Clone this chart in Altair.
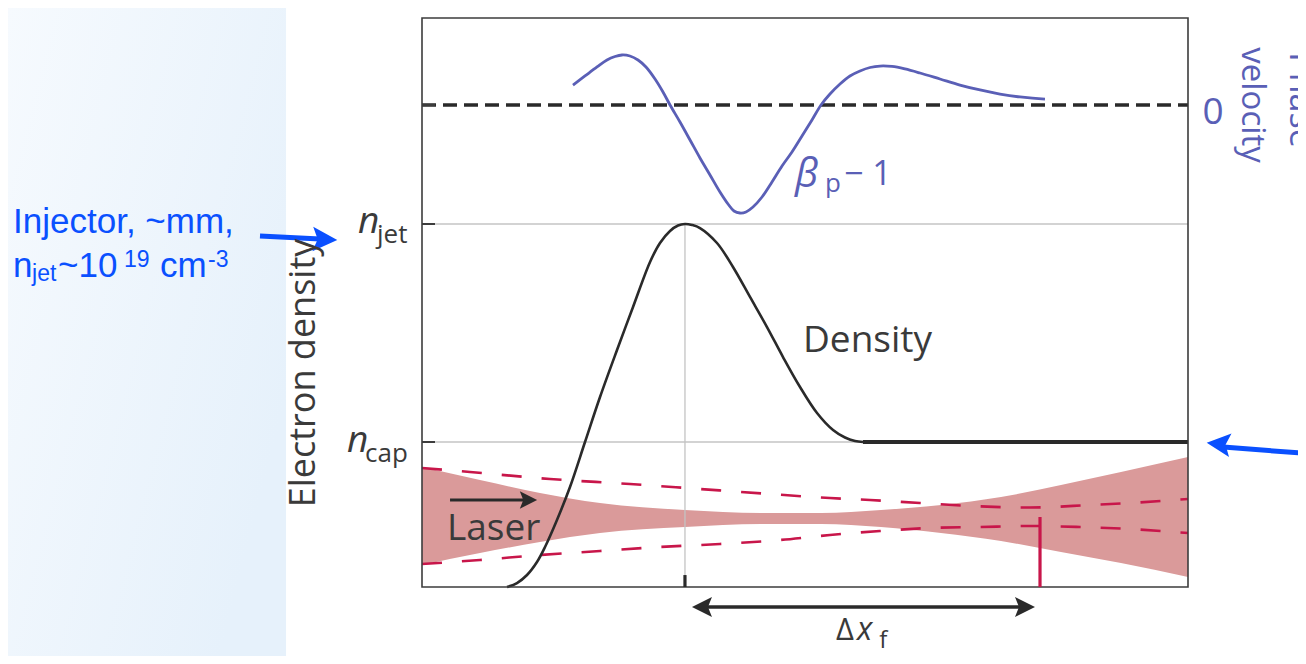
import altair as alt
import pandas as pd

# ---------------- data (box units: x 0..100 left->right, y 0..100 bottom->top)
blue_x = [19.71, 21.28, 22.85, 24.15, 25.20, 26.11, 27.15, 28.20, 29.24, 30.42, 31.46, 32.38,
          33.68, 34.99, 36.29, 37.60, 38.90, 39.95, 40.73, 41.51, 42.30, 43.21, 44.39, 45.69,
          47.00, 48.30, 49.61, 50.91, 52.09, 53.26, 54.57, 55.87, 57.18, 58.49, 59.79, 61.36,
          63.05, 65.01, 67.62, 70.23, 72.85, 75.46, 78.07, 81.33]
blue_y = [88.22, 89.81, 91.39, 92.62, 93.23, 93.50, 93.32, 92.62, 91.39, 89.28, 87.00, 84.71,
          81.72, 78.56, 75.40, 72.41, 69.42, 67.31, 66.08, 65.73, 65.91, 66.78, 68.54, 71.18,
          73.99, 76.45, 79.26, 82.07, 84.71, 86.64, 88.40, 89.81, 90.69, 91.30, 91.56, 91.48,
          91.04, 90.33, 89.28, 88.22, 87.35, 86.64, 86.12, 85.76]

dens_x = [11.10, 12.40, 13.71, 15.01, 16.06, 17.62, 19.32, 21.28, 23.24, 25.46, 27.55, 29.77,
          31.07, 32.38, 33.42, 34.33, 35.25, 36.29, 38.51, 40.60, 42.82, 45.04, 47.13, 49.35,
          51.57, 53.66, 55.22, 56.53, 57.57]
dens_y = [0.00, 0.70, 2.11, 4.39, 7.03, 11.78, 17.57, 25.48, 33.39, 41.65, 49.21, 57.12,
          60.46, 62.57, 63.53, 63.80, 63.62, 63.09, 60.46, 56.24, 50.97, 45.69, 40.42, 35.15,
          30.58, 27.59, 26.27, 25.66, 25.48]

n_cap = 25.48
n_jet = 63.80
zero_pv = 84.71
peak_x = 34.33
focus_x = 80.68
focus_top = 12.30
cap_start = 57.57

laser_x = [0, 7.57, 15.40, 23.24, 34.33, 44.26, 52.09, 59.92, 67.75, 75.59, 83.42, 91.25, 100]
laser_up = [21.09, 18.80, 16.52, 14.76, 13.53, 13.01, 13.01, 13.53, 14.41, 15.82, 17.93, 20.21, 22.85]
laser_lo = [3.87, 5.98, 7.91, 9.49, 10.54, 11.07, 11.07, 10.54, 9.49, 8.08, 6.15, 4.22, 1.76]

dash_up_x = [0, 6.27, 16.71, 27.15, 36.29, 45.43, 53.26, 58.49, 65.01, 71.54, 79.37, 87.21, 92.43, 100]
dash_up_y = [20.91, 20.21, 18.98, 18.10, 17.22, 16.34, 15.64, 15.29, 14.76, 14.24, 13.97, 14.41, 14.76, 15.47]
dash_lo_x = [0, 7.57, 15.40, 23.24, 31.07, 38.90, 46.74, 53.26, 59.79, 66.32, 72.85, 79.37, 85.90, 92.43, 100]
dash_lo_y = [4.04, 4.75, 5.62, 6.33, 7.03, 7.56, 8.26, 9.14, 9.84, 10.37, 10.54, 10.72, 10.54, 10.19, 9.49]

# ---------------- styles
PURPLE = "#5a5fb6"
CRIMSON = "#c8164a"
BLUE = "#0a50ff"
INK = "#2a2a2a"
TXT = "#3a3a3a"
FONT = "Open Sans"
ANN = "Liberation Sans"

XS = alt.Scale(domain=[0, 100], nice=False, zero=False)
YS = alt.Scale(domain=[0, 100], nice=False, zero=False)


def X(f="x"):
    return alt.X(f"{f}:Q", scale=XS, axis=None)


def Y(f="y"):
    return alt.Y(f"{f}:Q", scale=YS, axis=None)


def df(**kw):
    return pd.DataFrame(kw)


def rule(x, x2, y, y2, color, width, dash=None):
    kw = dict(color=color, strokeWidth=width)
    if dash:
        kw["strokeDash"] = dash
    return alt.Chart(df(x=[x], x2=[x2], y=[y], y2=[y2])).mark_rule(**kw).encode(
        x=X(), x2=alt.X2("x2"), y=Y(), y2=alt.Y2("y2"))


def text(s, x, y, size, color=TXT, font=FONT, style="normal", align="left", angle=0):
    kw = dict(font=font, fontSize=size, color=color, align=align, baseline="alphabetic",
              fontStyle=style)
    if angle:
        kw["angle"] = angle
    return alt.Chart(df(x=[x], y=[y], t=[s])).mark_text(**kw).encode(
        x=X(), y=Y(), text=alt.Text("t:N"))


HEAD_R = "M1,0 L-1,-1 L-0.6,0 L-1,1 Z"


def head(x, y, size, color, angle=0):
    kw = dict(shape=HEAD_R, filled=True, size=size, color=color, opacity=1, strokeWidth=0)
    if angle:
        kw["angle"] = angle
    return alt.Chart(df(x=[x], y=[y])).mark_point(**kw).encode(x=X(), y=Y())


layers = []

# left light-blue panel
grad = alt.LinearGradient(gradient="linear",
                          stops=[alt.GradientStop(color="#f6fafe", offset=0),
                                 alt.GradientStop(color="#e6f1fb", offset=1)],
                          x1=0, y1=0, x2=1, y2=0.6)
layers.append(alt.Chart(df(x=[-54.1], x2=[-17.75], y=[-12.8], y2=[101.8]))
              .mark_rect(color=grad).encode(x=X(), x2=alt.X2("x2"), y=Y(), y2=alt.Y2("y2")))

# laser envelope
layers.append(alt.Chart(df(x=laser_x, y=laser_up, y2=laser_lo))
              .mark_area(color="#da9a9a", interpolate="monotone", opacity=1)
              .encode(x=X(), y=Y(), y2=alt.Y2("y2")))

# focused-beam dashed lines
dash_df = pd.concat([df(x=dash_up_x, y=dash_up_y, s="up"), df(x=dash_lo_x, y=dash_lo_y, s="lo")])
layers.append(alt.Chart(dash_df).mark_line(color=CRIMSON, strokeWidth=2.6, strokeDash=[20, 20],
                                          interpolate="monotone")
              .encode(x=X(), y=Y(), detail="s:N"))

# guide lines
layers.append(rule(0, 100, n_jet, n_jet, "#c4c4c4", 1.3))
layers.append(rule(0, 100, n_cap, n_cap, "#c4c4c4", 1.3))
layers.append(rule(peak_x, peak_x, 0, n_jet, "#c4c4c4", 1.3))

# density curve
layers.append(alt.Chart(df(x=dens_x, y=dens_y)).mark_line(color=INK, strokeWidth=2.6,
                                                          interpolate="catmull-rom")
              .encode(x=X(), y=Y()))
layers.append(rule(cap_start, 100, n_cap, n_cap, INK, 4))

# zero phase-velocity dashed line
layers.append(rule(0, 100, zero_pv, zero_pv, INK, 3.6, dash=[14, 7]))

# beta_p - 1 curve
layers.append(alt.Chart(df(x=blue_x, y=blue_y)).mark_line(color=PURPLE, strokeWidth=2.8,
                                                          interpolate="catmull-rom")
              .encode(x=X(), y=Y()))

# frame
layers.append(alt.Chart(df(x=[0], x2=[100], y=[0], y2=[100]))
              .mark_rect(fillOpacity=0, stroke="#3c3c3c", strokeWidth=1.6)
              .encode(x=X(), x2=alt.X2("x2"), y=Y(), y2=alt.Y2("y2")))

# ticks
for ty in (zero_pv, n_jet, n_cap):
    layers.append(rule(0, 1.7, ty, ty, "#3c3c3c", 2))
layers.append(rule(peak_x, peak_x, 0, 2.1, INK, 3.2))
layers.append(rule(focus_x, focus_x, 0, focus_top, CRIMSON, 3.2))

# delta x_f arrow
layers.append(rule(36.3, 79.0, -3.51, -3.51, INK, 3.6))
layers.append(head(36.55, -3.51, 400, INK, angle=180))
layers.append(head(78.72, -3.51, 400, INK))

# laser arrow
layers.append(rule(3.66, 13.6, 15.29, 15.29, INK, 3.2))
layers.append(head(13.90, 15.29, 300, INK))

# blue annotation arrows
layers.append(rule(-21.15, -13.3, 61.69, 61.16, BLUE, 5))
layers.append(head(-12.66, 61.07, 600, BLUE, angle=2))
layers.append(rule(104.6, 116.5, 24.6, 23.35, BLUE, 5))
layers.append(head(103.98, 25.13, 560, BLUE, angle=186))

# texts
layers += [
    text("Injector, ~mm,", -53.39, 62.21, 35, BLUE, ANN),
    text("n", -53.39, 54.48, 35, BLUE, ANN),
    text("jet", -50.91, 53.78, 23, BLUE, ANN),
    text("~10", -47.52, 54.48, 35, BLUE, ANN),
    text("19", -38.90, 56.24, 23, BLUE, ANN),
    text("cm", -34.20, 54.48, 35, BLUE, ANN),
    text("-3", -27.94, 56.24, 23, BLUE, ANN),
    text("n", -8.36, 62.21, 37, TXT, style="italic"),
    text("jet", -5.87, 60.46, 26, TXT),
    text("n", -9.79, 23.73, 37, TXT, style="italic"),
    text("cap", -7.44, 21.97, 26, TXT),
    text("Electron density", -13.97, 37.61, 36, TXT, align="center", angle=270),
    text("Density", 49.74, 41.30, 37, TXT),
    text("Laser", 3.26, 8.26, 37, TXT),
    text("β", 48.70, 70.30, 40, PURPLE, style="italic"),
    text("p", 52.61, 69.42, 26, PURPLE),
    text("− 1", 55.10, 70.65, 34, PURPLE),
    text("0", 103.26, 81.37, 37, PURPLE, align="center"),
    text("velocity", 107.05, 84.71, 33, PURPLE, align="center", angle=90),
    text("Phase", 113.32, 85.59, 34, PURPLE, align="center", angle=90),
    text("Δ", 54.05, -9.31, 31, TXT),
    text("x", 56.80, -9.31, 32, TXT, style="italic"),
    text("f", 59.70, -10.72, 24, TXT),
]

chart = (alt.layer(*layers)
         .properties(width=766, height=569, background="white",
                     autosize=alt.AutoSizeParams(type="none"),
                     padding={"left": 414, "top": 10, "right": 110, "bottom": 69})
         .configure_view(strokeWidth=0))

chart.save("out.html", embed_options={"renderer": "svg", "actions": False})
